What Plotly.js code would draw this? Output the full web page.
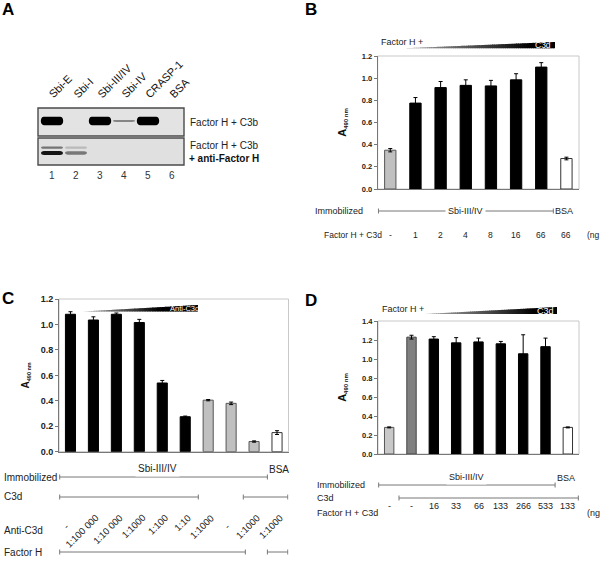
<!DOCTYPE html>
<html><head><meta charset="utf-8">
<script src="https://cdn.plot.ly/plotly-3.0.1.min.js"></script>
<style>html,body{margin:0;padding:0;background:#fff;}#chart{width:600px;height:577px;}</style>
</head><body><div id="chart"></div>
<script>
// ---------- Panel A : dot blot ----------
const laneNames = ['Sbi-E', 'Sbi-I', 'Sbi-III/IV', 'Sbi-IV', 'CRASP-1', 'BSA'];
const laneNumbers = [1, 2, 3, 4, 5, 6];
const blotTopIntensity = [1, 0, 1, 0.3, 1, 0];          // Factor H + C3b
const blotBottomIntensity = [0.9, 0.4, 0, 0, 0, 0];     // + anti-Factor H (main band)
const blotBottomUpper = [0.45, 0.12, 0, 0, 0, 0];       // + anti-Factor H (upper faint band)

// ---------- Panel B ----------
const bLabels = ['-', '1', '2', '4', '8', '16', '66', '66'];
const bValues = [0.35, 0.775, 0.915, 0.935, 0.93, 0.985, 1.10, 0.275];
const bErrors = [0.015, 0.05, 0.055, 0.05, 0.05, 0.055, 0.04, 0.012];
const bKinds  = ['grey', 'black', 'black', 'black', 'black', 'black', 'black', 'white'];

// ---------- Panel C ----------
const cAntiC3d = ['-', '1:100 000', '1:10 000', '1:1000', '1:100', '1:10', '1:1000', '-', '1:1000', '1:1000'];
const cValues  = [1.08, 1.035, 1.08, 1.015, 0.54, 0.275, 0.405, 0.38, 0.08, 0.15];
const cErrors  = [0.02, 0.025, 0.01, 0.025, 0.02, 0.005, 0.005, 0.01, 0.005, 0.015];
const cKinds   = ['black', 'black', 'black', 'black', 'black', 'black', 'grey', 'grey', 'grey', 'white'];

// ---------- Panel D ----------
const dLabels = ['-', '-', '16', '33', '66', '133', '266', '533', '133'];
const dValues = [0.28, 1.23, 1.21, 1.17, 1.18, 1.16, 1.055, 1.13, 0.28];
const dErrors = [0.005, 0.02, 0.025, 0.055, 0.04, 0.025, 0.2, 0.09, 0.005];
const dKinds  = ['light', 'dark', 'black', 'black', 'black', 'black', 'black', 'black', 'white'];

// ---------- helpers ----------
const W = 600, H = 577;
const px = x => x / W;
const py = y => 1 - y / H;
const FONT = 'Liberation Sans, Arial, Helvetica, sans-serif';
const fillOf = {black: '#000000', grey: '#c0c0c0', light: '#c8c8c8', dark: '#808080', white: '#ffffff'};
const lineOf = {black: '#000000', grey: '#555555', light: '#555555', dark: '#444444', white: '#333333'};
const measureCtx = document.createElement('canvas').getContext('2d');
function textWidth(t, size) { measureCtx.font = size + 'px "Liberation Sans"'; return measureCtx.measureText(t).width; }

function barTrace(vals, errs, kinds, xa, ya, width) {
  return {
    type: 'bar', x: vals.map((_, i) => i), y: vals, xaxis: xa, yaxis: ya, width: width,
    marker: {color: kinds.map(k => fillOf[k]), line: {color: kinds.map(k => lineOf[k]), width: 1}},
    error_y: {type: 'data', array: errs, visible: true, color: '#000', thickness: 1, width: 2},
    hoverinfo: 'none', showlegend: false
  };
}
function yax(domain, range, anchor, tsize, titleSize, subSize) {
  return {
    domain: domain, range: range, anchor: anchor, dtick: 0.2, tick0: 0, tickformat: '.1f',
    ticks: 'outside', ticklen: 3, tickcolor: '#777', tickwidth: 1,
    showline: true, linecolor: '#777', linewidth: 1, showgrid: false, zeroline: false,
    tickfont: {family: FONT, size: tsize, color: '#222', weight: 'bold'},
    title: {text: 'A<sub><span style="font-size:' + subSize + 'px">490 nm</span></sub>',
            font: {family: FONT, size: titleSize, color: '#111', weight: 'bold'}},
    fixedrange: true
  };
}
function xax(domain, n, anchor) {
  return {domain: domain, range: [-0.5, n - 0.5], anchor: anchor, showline: true, linecolor: '#777',
          linewidth: 1, ticks: '', showticklabels: false, showgrid: false, zeroline: false, fixedrange: true};
}

const shapes = [];
const annotations = [];

function txt(x, y, text, size, opts) {
  annotations.push(Object.assign({xref: 'paper', yref: 'paper', x: px(x), y: py(y), text: text, showarrow: false,
    xanchor: 'left', yanchor: 'middle', font: {family: FONT, size: size, color: '#222'}}, opts || {}));
}
function seg(xref, a, b, ypx) {
  const ln = {color: '#777', width: 1};
  shapes.push({type: 'line', xref: xref, yref: 'paper', x0: a, x1: b, y0: py(ypx), y1: py(ypx), line: ln});
  [a, b].forEach(v => shapes.push({type: 'line', xref: xref, yref: 'paper', x0: v, x1: v,
    y0: py(ypx - 2.5), y1: py(ypx + 2.5), line: ln}));
}
function wedge(x0, x1, yb, yt, blackFrom, g0) {
  const N = 70;
  for (let i = 0; i < N; i++) {
    const t0 = i / N, t1 = Math.min(1, (i + 1.4) / N);
    const xa = x0 + (x1 - x0) * t0, xb = x0 + (x1 - x0) * t1;
    const ya = yb + (yt - yb) * t0, yb2 = yb + (yt - yb) * t1;
    const tm = (i + 0.5) / N;
    const g = Math.max(0, Math.round(g0 * (1 - tm / blackFrom)));
    const c = 'rgb(' + g + ',' + g + ',' + g + ')';
    shapes.push({type: 'path', xref: 'paper', yref: 'paper',
      path: 'M' + px(xa) + ',' + py(yb) + ' L' + px(xa) + ',' + py(ya) + ' L' + px(xb) + ',' + py(yb2) + ' L' + px(xb) + ',' + py(yb) + ' Z',
      fillcolor: c, line: {width: 0}});
  }
}
function band(cx, cy, hw, hh, color) {
  const x0 = cx - hw, x1 = cx + hw, y0 = cy - hh, y1 = cy + hh, r = hw * 0.28;
  shapes.push({type: 'path', xref: 'x4', yref: 'y4', fillcolor: color, line: {width: 0},
    path: 'M' + (x0 + r) + ',' + y1 + ' L' + (x1 - r) + ',' + y1 + ' C' + (x1 + r * 0.3) + ',' + y1 + ' ' + (x1 + r * 0.3) + ',' + y0 + ' ' + (x1 - r) + ',' + y0 +
          ' L' + (x0 + r) + ',' + y0 + ' C' + (x0 - r * 0.3) + ',' + y0 + ' ' + (x0 - r * 0.3) + ',' + y1 + ' ' + (x0 + r) + ',' + y1 + ' Z'});
}
function grey(I, base) { const g = Math.round(base * (1 - I)); return 'rgb(' + g + ',' + g + ',' + g + ')'; }

// ---------- Panel letters ----------
const letterFont = {family: FONT, size: 17, color: '#000', weight: 'bold'};
txt(8, 10, 'A', 17, {xanchor: 'center', font: letterFont});
txt(311, 10, 'B', 17, {xanchor: 'center', font: letterFont});
txt(8, 298, 'C', 17, {xanchor: 'center', font: letterFont});
txt(311, 300, 'D', 17, {xanchor: 'center', font: letterFont});

// ---------- Panel A drawing ----------
shapes.push({type: 'rect', xref: 'x4 domain', yref: 'y4', x0: 0, x1: 1, y0: 0.531, y1: 1.406,
  fillcolor: '#e3e3e3', line: {color: '#4a4a4a', width: 1.4}});
shapes.push({type: 'rect', xref: 'x4 domain', yref: 'y4', x0: 0, x1: 1, y0: -0.375, y1: 0.469,
  fillcolor: '#e0e0e0', line: {color: '#4a4a4a', width: 1.4}});
laneNumbers.forEach((ln, i) => {
  const It = blotTopIntensity[i];
  if (It > 0) band(ln, 1.0, 0.47, 0.02 + 0.11 * It * It, grey(It, 190));
  const Ib = blotBottomIntensity[i];
  if (Ib > 0) band(ln, 0.0, 0.46, 0.045 + 0.02 * Ib, grey(Ib, 200));
  const Iu = blotBottomUpper[i];
  if (Iu > 0) band(ln, 0.17, 0.46, 0.035, grey(Iu, 210));
  annotations.push({xref: 'x4', yref: 'paper', x: ln, y: py(103), text: laneNames[i], showarrow: false,
    textangle: -45, xanchor: 'left', yanchor: 'bottom', xshift: -8,
    font: {family: FONT, size: 11, color: '#111'}});
  annotations.push({xref: 'x4', yref: 'paper', x: ln, y: py(175), text: String(ln), showarrow: false,
    xanchor: 'center', yanchor: 'middle', font: {family: FONT, size: 10, color: '#333'}});
});
txt(188, 123, 'Factor H + C3b', 10);
txt(188, 146, 'Factor H + C3b', 10);
txt(187, 158, '+ anti-Factor H', 10, {font: {family: FONT, size: 10, color: '#111', weight: 'bold'}});

// ---------- Panel B decorations ----------
txt(379, 42, 'Factor H +', 9);
wedge(403, 555, 48.3, 42, 0.84, 175);
txt(543, 45.3, 'C3d', 8.5, {xanchor: 'center', font: {family: FONT, size: 8.5, color: '#fff'}});
shapes.push({type: 'rect', xref: 'x domain', yref: 'y domain', x0: 0, x1: 1, y0: 0, y1: 1, line: {color: '#c8c8c8', width: 1}, layer: 'below'});
txt(313, 211, 'Immobilized', 9);
seg('x', -0.47, 6.48, 211);
annotations.push({xref: 'x', yref: 'paper', x: 3.0, y: py(211), text: 'Sbi-III/IV', showarrow: false, bgcolor: '#fff', borderpad: 2,
  font: {family: FONT, size: 9, color: '#222'}});
annotations.push({xref: 'x', yref: 'paper', x: 6.48, y: py(211), text: 'BSA', showarrow: false, xanchor: 'left',
  font: {family: FONT, size: 9, color: '#222'}});
txt(322, 235, 'Factor H + C3d', 8.5);
bLabels.forEach((l, i) => annotations.push({xref: 'x', yref: 'paper', x: i, y: py(235), text: l, showarrow: false,
  font: {family: FONT, size: 8.5, color: '#222'}}));
txt(585, 235, '(ng', 8.5);

// ---------- Panel C decorations ----------
wedge(83, 198, 311.5, 305, 0.66, 175);
txt(184, 308.4, 'Anti-C3d', 7.5, {xanchor: 'center', font: {family: FONT, size: 7.5, color: '#fff'}});
shapes.push({type: 'rect', xref: 'x2 domain', yref: 'y2 domain', x0: 0, x1: 1, y0: 0, y1: 1, line: {color: '#c8c8c8', width: 1}, layer: 'below'});
txt(2, 477, 'Immobilized', 10);
seg('x2', -0.47, 8.58, 477);
annotations.push({xref: 'x2', yref: 'paper', x: 3.8, y: py(477), text: 'Sbi-III/IV', showarrow: false, bgcolor: '#fff', borderpad: 2,
  font: {family: FONT, size: 10, color: '#222'}});
annotations.push({xref: 'x2', yref: 'paper', x: 8.58, y: py(477), text: 'BSA', showarrow: false, xanchor: 'left',
  font: {family: FONT, size: 10, color: '#222'}});
txt(2, 497, 'C3d', 10);
seg('x2', -0.47, 5.57, 497);
seg('x2', 7.53, 9.47, 497);
txt(2, 530, 'Anti-C3d', 10);
const rotSize = 9.5;
cAntiC3d.forEach((l, i) => {
  let xs, ys;
  if (l === '-') { xs = -5; ys = -10; }
  else { const d = textWidth(l, rotSize) / 2 * Math.SQRT1_2; xs = 4 - d; ys = -d; }
  annotations.push({xref: 'x2', yref: 'paper', x: i, y: py(516), text: l, showarrow: false,
    textangle: -45, xanchor: 'center', yanchor: 'middle', xshift: xs, yshift: ys,
    font: {family: FONT, size: rotSize, color: '#222'}});
});
txt(2, 552, 'Factor H', 10);
seg('x2', -0.47, 7.62, 552);
seg('x2', 8.58, 9.47, 552);

// ---------- Panel D decorations ----------
txt(380, 309, 'Factor H +', 9);
wedge(425, 557, 314, 307, 0.82, 175);
txt(545, 310.6, 'C3d', 9, {xanchor: 'center', font: {family: FONT, size: 9, color: '#fff'}});
shapes.push({type: 'rect', xref: 'x3 domain', yref: 'y3 domain', x0: 0, x1: 1, y0: 0, y1: 1, line: {color: '#c8c8c8', width: 1}, layer: 'below'});
txt(315, 485, 'Immobilized', 9);
seg('x3', -0.47, 7.43, 485);
annotations.push({xref: 'x3', yref: 'paper', x: 3.47, y: py(485), text: 'Sbi-III/IV', showarrow: false, bgcolor: '#fff', borderpad: 2,
  font: {family: FONT, size: 9, color: '#222'}});
annotations.push({xref: 'x3', yref: 'paper', x: 7.43, y: py(485), text: 'BSA', showarrow: false, xanchor: 'left',
  font: {family: FONT, size: 9, color: '#222'}});
txt(315, 498, 'C3d', 9);
seg('x3', 0.44, 8.47, 498);
txt(315, 513, 'Factor H + C3d', 9);
dLabels.forEach((l, i) => annotations.push({xref: 'x3', yref: 'paper', x: i, y: py(513), text: l, showarrow: false,
  font: {family: FONT, size: 9, color: '#222'}}));
txt(585, 513, '(ng', 9);

// ---------- traces ----------
const data = [
  barTrace(bValues, bErrors, bKinds, 'x', 'y', 0.45),
  barTrace(cValues, cErrors, cKinds, 'x2', 'y2', 0.44),
  barTrace(dValues, dErrors, dKinds, 'x3', 'y3', 0.42),
  {type: 'scatter', x: [1], y: [0], xaxis: 'x4', yaxis: 'y4', mode: 'markers', marker: {size: 1, opacity: 0}, hoverinfo: 'none', showlegend: false}
];

const layout = {
  width: W, height: H, margin: {l: 0, r: 0, t: 0, b: 0}, paper_bgcolor: '#fff', plot_bgcolor: 'rgba(0,0,0,0)',
  showlegend: false, font: {family: FONT, color: '#222'},
  xaxis: xax([px(377.7), px(579)], bValues.length, 'y'),
  yaxis: yax([py(189), py(56)], [0, 1.2], 'x', 7.5, 11, 6),
  xaxis2: xax([px(59), px(288.5)], cValues.length, 'y2'),
  yaxis2: yax([py(451.7), py(299)], [0, 1.2], 'x2', 9, 10, 5.5),
  xaxis3: xax([px(378), px(579)], dValues.length, 'y3'),
  yaxis3: yax([py(454), py(321)], [0, 1.4], 'x3', 7.5, 11, 6),
  xaxis4: {domain: [px(38), px(184)], range: [0.4167, 6.5], visible: false, anchor: 'y4', fixedrange: true},
  yaxis4: {domain: [py(167.4), py(105.6)], range: [-0.45, 1.48], visible: false, anchor: 'x4', fixedrange: true},
  shapes: shapes, annotations: annotations
};

Plotly.newPlot('chart', data, layout, {displayModeBar: false, staticPlot: true});
</script>
</body></html>
